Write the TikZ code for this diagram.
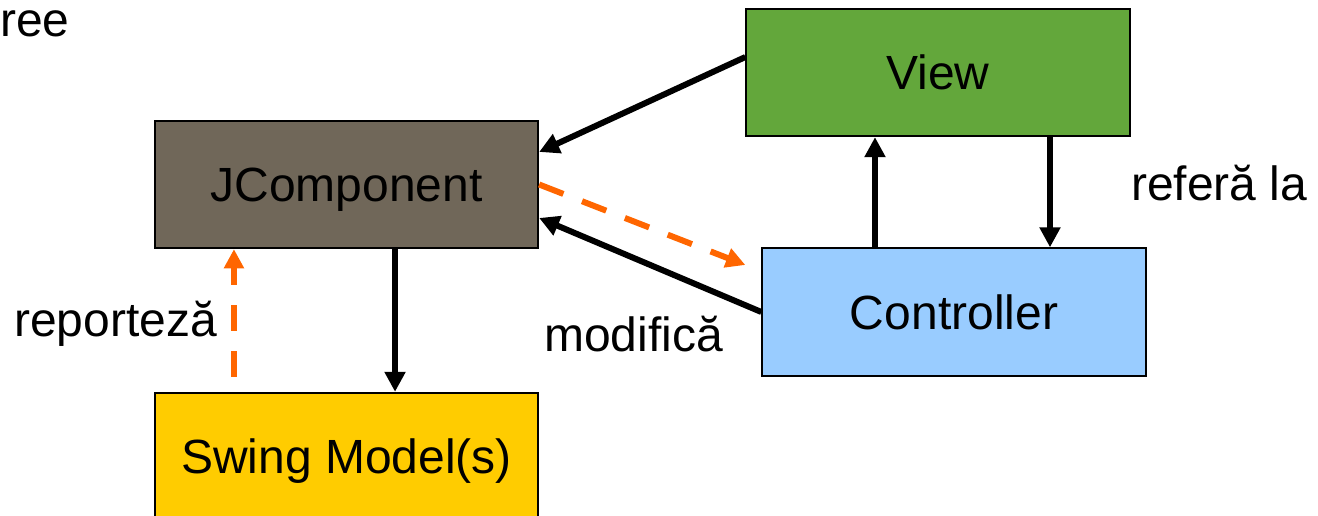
\documentclass[tikz,border=0pt]{standalone}
\usepackage{fontspec}
\setmainfont{Liberation Sans}
\usetikzlibrary{arrows.meta}
\definecolor{jcfill}{RGB}{112,103,89}
\definecolor{viewfill}{RGB}{99,167,59}
\definecolor{ctrlfill}{RGB}{153,204,255}
\definecolor{swingfill}{RGB}{255,204,0}
\definecolor{orangeline}{RGB}{255,102,0}
\begin{document}
\begin{tikzpicture}[x=0.75pt,y=-0.75pt,
  box/.style={draw=black,line width=1.5pt,minimum width=287.5pt,minimum height=95.5pt,inner sep=0pt,text height=25.8pt,text depth=0pt,font=\fontsize{36}{40}\selectfont},
  lbl/.style={inner sep=0pt,font=\fontsize{36}{40}\selectfont},
  blackarrow/.style={draw=black,line width=4.5pt,-{Triangle[length=15pt,width=15pt]}},
  orangearrow/.style={draw=orangeline,line width=4.5pt,dash pattern=on 19.5pt off 15pt,-{Triangle[length=14.5pt,width=14.5pt]}}
]
\useasboundingbox (0,0) rectangle (1318,516);
\clip (0,0) rectangle (1318,516);
\node[box,fill=jcfill] (jc) at (346.5,184.5) {JComponent};
\node[box,fill=viewfill] (view) at (938,72.5) {View};
\node[box,fill=ctrlfill] (ctrl) at (954,312) {Controller};
\node[box,fill=swingfill] (swing) at (346.5,456.5) {Swing Model(s)};
\node[lbl,anchor=base west] (ree) at (0,37) {ree};
\node[lbl,anchor=base west] (refera) at (1131,201) {referă la};
\node[lbl,anchor=base west] (reporteza) at (14,337) {reporteză};
\node[lbl,anchor=base west] (modifica) at (544,352) {modifică};
% arrows
\draw[blackarrow] ([yshift=11.6pt]view.west) -- ([yshift=24.4pt]jc.east);
\draw[blackarrow] (ctrl.west) -- ([yshift=-25.1pt]jc.east);
\draw[orangearrow] (jc.east) -- ([xshift=-12pt,yshift=35.25pt]ctrl.west);
\draw[blackarrow] ([xshift=36.4pt]jc.south) -- ([xshift=36.4pt]swing.north);
\draw[orangearrow] ([xshift=-84.4pt,yshift=11.25pt]swing.north) -- ([xshift=-84.4pt]jc.south);
\draw[blackarrow] ([xshift=-59.25pt]ctrl.north) -- ([xshift=-47.25pt]view.south);
\draw[blackarrow] ([xshift=84pt]view.south) -- ([xshift=72pt]ctrl.north);
\end{tikzpicture}
\end{document}
